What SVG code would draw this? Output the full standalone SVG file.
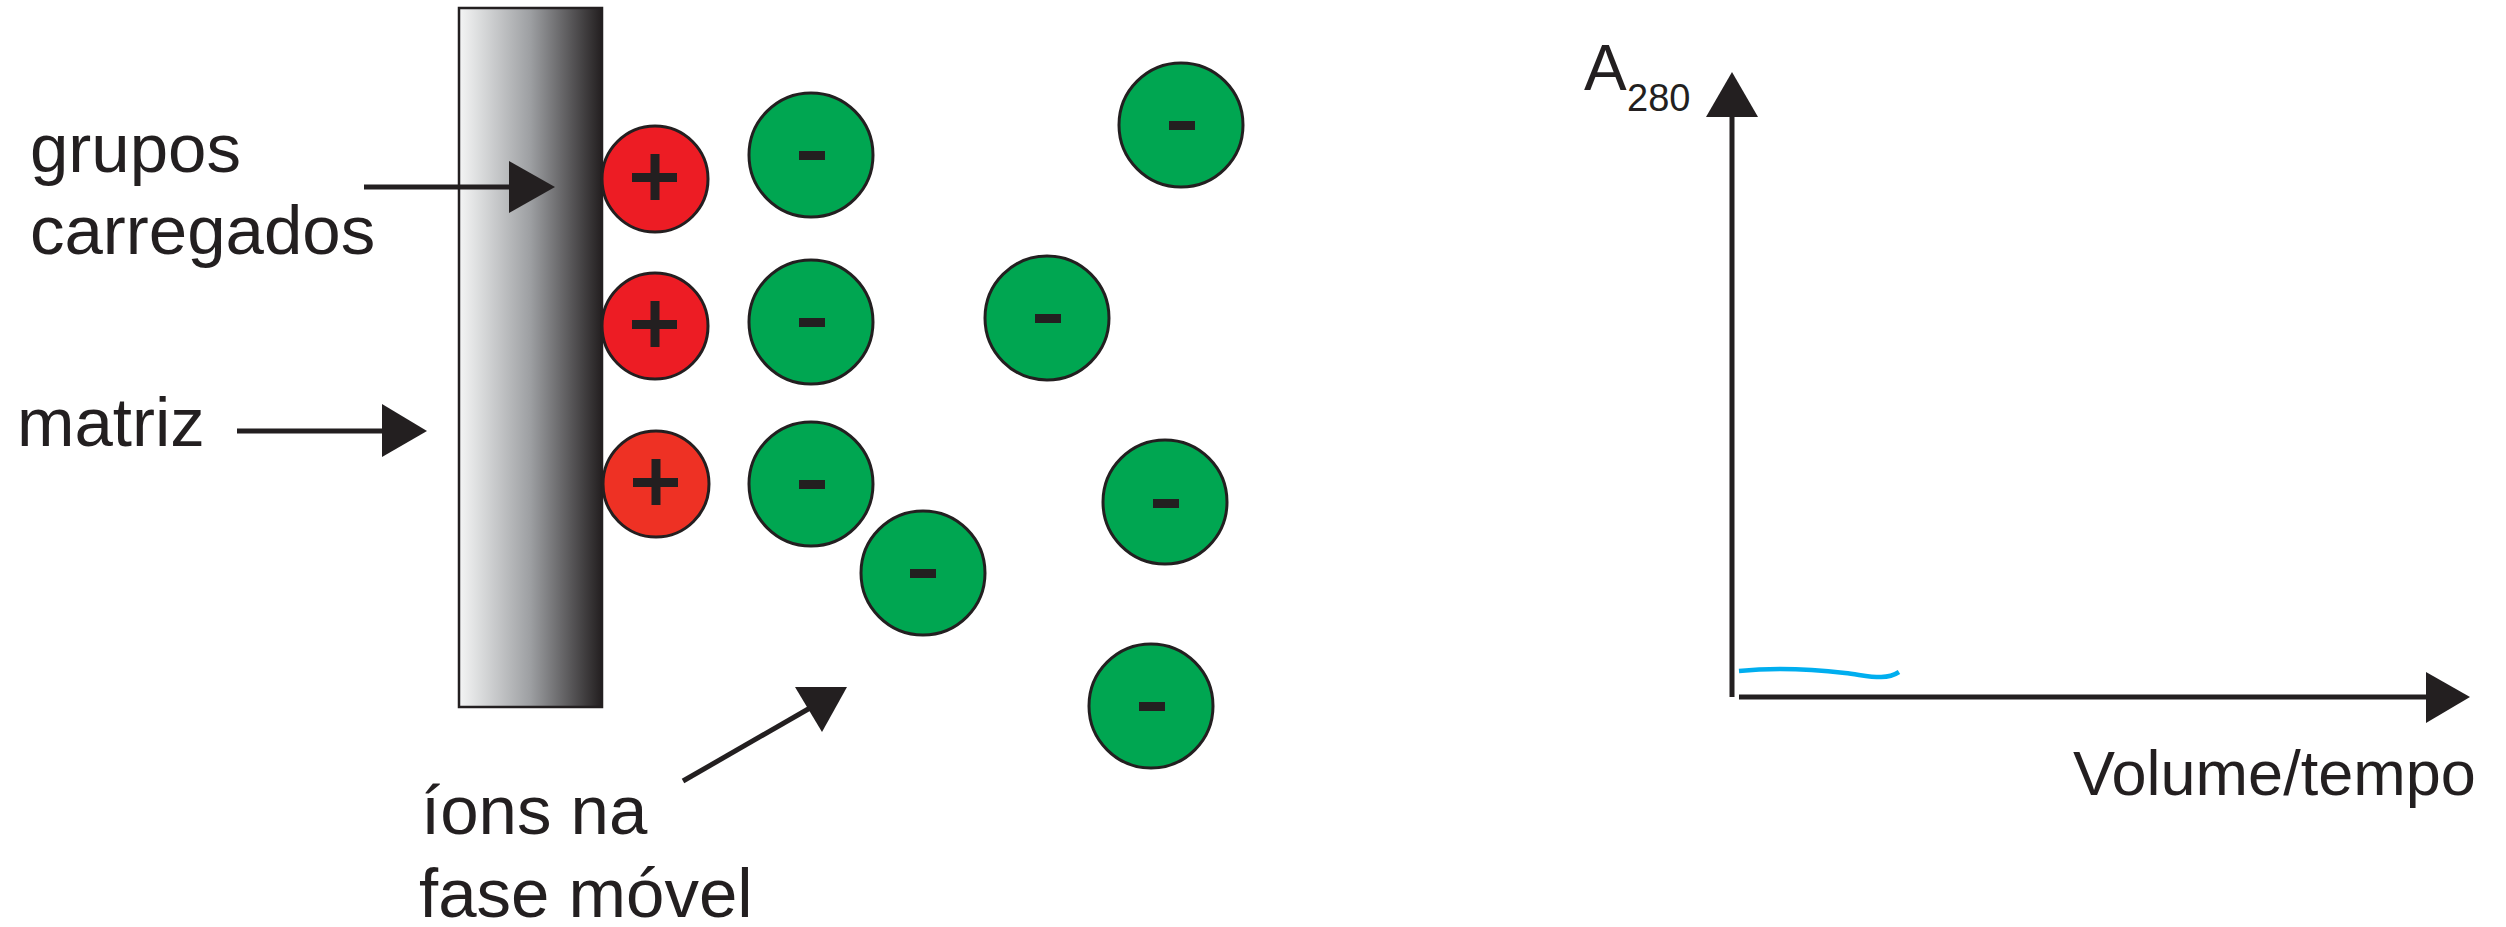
<svg xmlns="http://www.w3.org/2000/svg" width="2506" height="927" viewBox="0 0 2506 927">
<style>
.lbl{font-family:"Liberation Sans",Arial,sans-serif;font-size:69px;fill:#231f20}
.pos{stroke:#231f20;stroke-width:3}
.neg{fill:#00a651;stroke:#231f20;stroke-width:3}
.sign{fill:#231f20}
.ln{stroke:#231f20;stroke-width:5;fill:none}
.head{fill:#231f20}
</style>
<defs>
<linearGradient id="mg" x1="0" y1="0" x2="1" y2="0">
<stop offset="0" stop-color="#f4f5f5"/>
<stop offset="0.5" stop-color="#9d9fa2"/>
<stop offset="1" stop-color="#231f20"/>
</linearGradient>
</defs>
<rect width="2506" height="927" fill="#ffffff"/>
<g id="matriz">
<rect x="459" y="8" width="143" height="699" fill="url(#mg)" stroke="#231f20" stroke-width="2.5"/>
</g>
<g id="pos1"><circle class="pos" cx="655" cy="179" r="53" fill="#ed1c24"/><rect class="sign" x="650.5" y="154" width="9" height="46"/><rect class="sign" x="632" y="173" width="45" height="9"/></g>
<g id="pos2"><circle class="pos" cx="655" cy="326" r="53" fill="#ed1c24"/><rect class="sign" x="650.5" y="301" width="9" height="46"/><rect class="sign" x="632" y="320" width="45" height="9"/></g>
<g id="pos3"><circle class="pos" cx="656" cy="484" r="53" fill="#ee3124"/><rect class="sign" x="651.5" y="459" width="9" height="46"/><rect class="sign" x="633" y="478" width="45" height="9"/></g>
<g id="neg1"><circle class="neg" cx="811" cy="155" r="62"/><rect class="sign" x="799" y="151" width="26" height="9"/></g>
<g id="neg2"><circle class="neg" cx="811" cy="322" r="62"/><rect class="sign" x="799" y="318" width="26" height="9"/></g>
<g id="neg3"><circle class="neg" cx="811" cy="484" r="62"/><rect class="sign" x="799" y="480" width="26" height="9"/></g>
<g id="neg4"><circle class="neg" cx="923" cy="573" r="62"/><rect class="sign" x="910" y="569" width="26" height="9"/></g>
<g id="neg5"><circle class="neg" cx="1047" cy="318" r="62"/><rect class="sign" x="1035" y="314" width="26" height="9"/></g>
<g id="neg6"><circle class="neg" cx="1181" cy="125" r="62"/><rect class="sign" x="1169" y="121" width="26" height="9"/></g>
<g id="neg7"><circle class="neg" cx="1165" cy="502" r="62"/><rect class="sign" x="1153" y="499" width="26" height="9"/></g>
<g id="neg8"><circle class="neg" cx="1151" cy="706" r="62"/><rect class="sign" x="1139" y="702" width="26" height="9"/></g>
<g id="labels">
<text class="lbl" x="30" y="172">grupos</text>
<text class="lbl" x="30" y="254">carregados</text>
<text class="lbl" x="17" y="446">matriz</text>
<text class="lbl" x="421" y="834">íons na</text>
<text class="lbl" x="419" y="917">fase móvel</text>
<text font-family="Liberation Sans,Arial,sans-serif" font-size="64" fill="#231f20" x="1584" y="90">A</text>
<text font-family="Liberation Sans,Arial,sans-serif" font-size="38" fill="#231f20" x="1627" y="111">280</text>
<text font-family="Liberation Sans,Arial,sans-serif" font-size="63" fill="#231f20" x="2073" y="795">Volume/tempo</text>
</g>
<g id="connectors">
<line class="ln" x1="364" y1="187" x2="512" y2="187"/>
<polygon class="head" points="509,161 555,187 509,213"/>
<line class="ln" x1="237" y1="431" x2="385" y2="431"/>
<polygon class="head" points="382,404 427,431 382,457"/>
<line class="ln" x1="683" y1="781" x2="810" y2="708"/>
<polygon class="head" points="795,687 847,687 822,732"/>
<line class="ln" x1="1732" y1="112" x2="1732" y2="697"/>
<polygon class="head" points="1706,117 1732,72 1758,117"/>
<line class="ln" x1="1739" y1="697" x2="2430" y2="697"/>
<polygon class="head" points="2426,672 2470,697 2426,723"/>
<path d="M1739,671 C1770,668 1810,669 1845,673 C1870,676 1885,681 1899,672" stroke="#00aeef" stroke-width="4.5" fill="none"/>
</g>
</svg>
